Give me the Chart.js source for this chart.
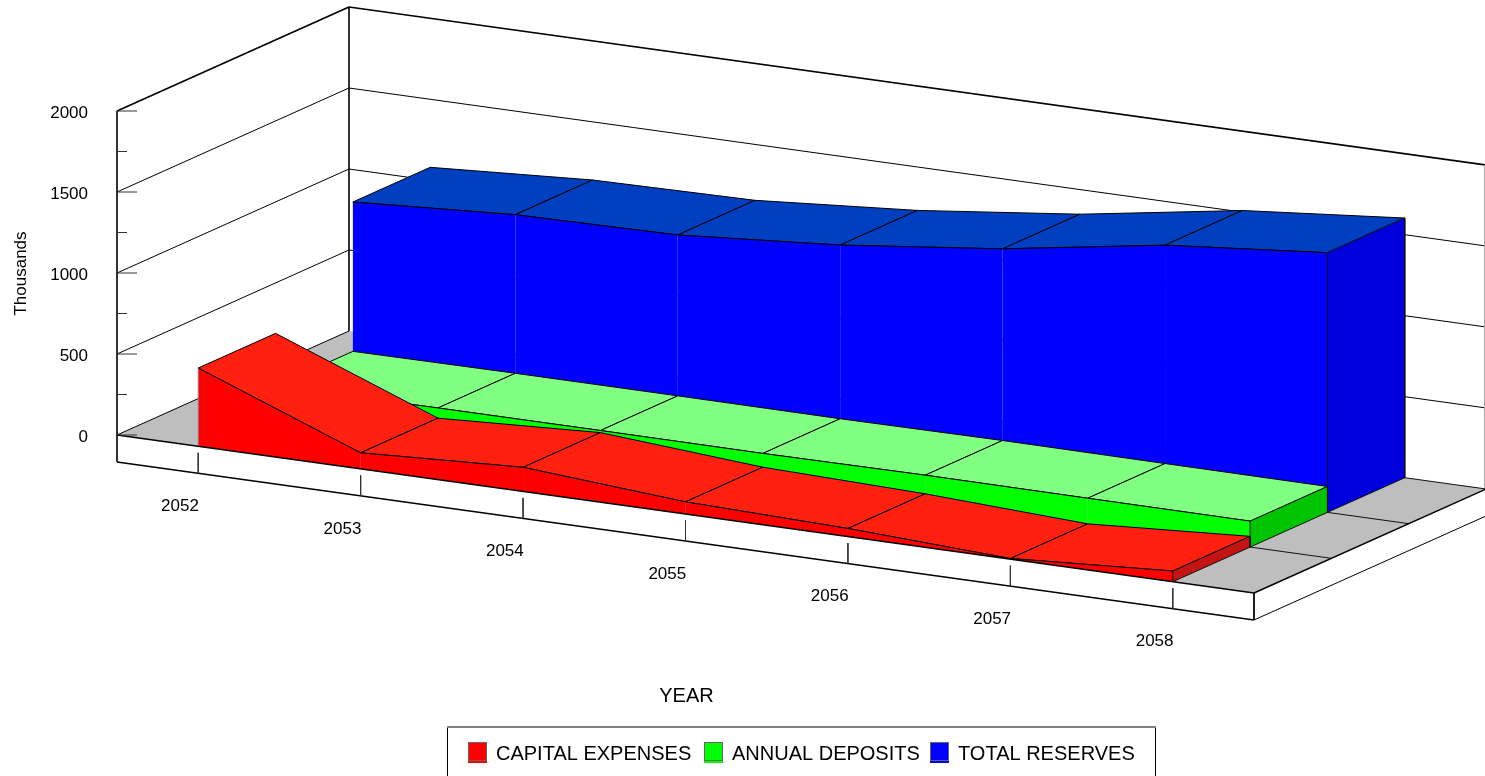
<!DOCTYPE html>
<html>
<head>
<meta charset="utf-8">
<title>Reserves</title>
<style>
  html, body { margin: 0; padding: 0; background: #fff; overflow: hidden; }
  canvas { display: block; }
</style>
<script src="https://cdn.jsdelivr.net/npm/chart.js@4"></script>
</head>
<body>
<canvas id="chart" width="1485" height="776"></canvas>
<script>
// chart data
const years = ['2052', '2053', '2054', '2055', '2056', '2057', '2058'];
const capitalExpenses = [483, 99, 149, 75, 50, 4, 66];
const annualDeposits = [158, 162, 162, 160, 165, 162, 160];
const totalReserves = [1080, 1141, 1155, 1232, 1348, 1510, 1603];
const majorTicks = [0, 500, 1000, 1500, 2000];
const minorTicks = [250, 750, 1250, 1750];
const legendNames = ['CAPITAL EXPENSES', 'ANNUAL DEPOSITS', 'TOTAL RESERVES'];

const FONT = '"Liberation Sans", Arial, sans-serif';
const valueMax = 2000;

// oblique projection: year position, depth (0 front, 1 back), value -> page point
function project(i, d, v) {
    return {
        x: 117 + 162.43 * i + 232 * d,
        y: 435 + 22.57 * i - 104 * d - v * 324 / valueMax
    };
}

const faces = [];

function addFace(points, fill, line, width) {
    faces.push({
        data: points.concat(line ? [points[0]] : []),
        type: 'scatter',
        showLine: true,
        tension: 0,
        pointRadius: 0,
        pointHoverRadius: 0,
        fill: fill ? 'shape' : false,
        backgroundColor: fill || 'transparent',
        borderColor: line || 'transparent',
        borderWidth: line ? (width || 1) : 0,
        clip: false
    });
}

function addLine(a, b, color, width) {
    faces.push({
        data: [a, b],
        type: 'scatter',
        showLine: true,
        tension: 0,
        pointRadius: 0,
        pointHoverRadius: 0,
        fill: false,
        borderColor: color,
        borderWidth: width,
        clip: false
    });
}

// floor slab
const n = years.length;
addFace([project(0, 0, 0), project(n, 0, 0), project(n, 1, 0), project(0, 1, 0)], '#bebebe');

// walls
majorTicks.slice(1, -1).forEach(v => {
    addLine(project(0, 0, v), project(0, 1, v), '#000', 1);
    addLine(project(0, 1, v), project(n, 1, v), '#000', 1);
});
addLine(project(0, 0, 0), project(0, 1, 0), '#000', 1);
addLine(project(0, 0, valueMax), project(0, 1, valueMax), '#000', 1.6);
addLine(project(0, 1, valueMax), project(n, 1, valueMax), '#000', 1.6);
addLine(project(0, 1, 0), project(0, 1, valueMax), '#000', 1.6);

// right edge of the back wall sits on the page border
const wallFoot = project(n, 1, 0);
const wallHead = project(n, 1, valueMax);
addLine({ x: 1484.5, y: wallFoot.y }, { x: 1484.5, y: wallHead.y }, '#aaa', 1);

// floor lines between the series rows
[1 / 3, 2 / 3, 1].forEach(d => {
    addLine(project(0.5, d, 0), project(n, d, 0), '#111', 1);
});

// one ribbon for a series: top, front and right end
function addRibbon(values, d0, d1, topColor, frontColor, endColor) {
    for (let k = 0; k < values.length - 1; k++) {
        addFace([
            project(k + 0.5, d0, values[k]),
            project(k + 1.5, d0, values[k + 1]),
            project(k + 1.5, d1, values[k + 1]),
            project(k + 0.5, d1, values[k])
        ], topColor, '#000', 1);
    }
    for (let k = 0; k < values.length - 1; k++) {
        addFace([
            project(k + 0.5, d0, values[k]),
            project(k + 1.5, d0, values[k + 1]),
            project(k + 1.5, d0, 0),
            project(k + 0.5, d0, 0)
        ], frontColor);
        addLine(project(k + 0.5, d0, values[k]), project(k + 1.5, d0, values[k + 1]), '#000', 1);
    }
    const last = values.length - 0.5;
    addFace([
        project(last, d0, values[values.length - 1]),
        project(last, d1, values[values.length - 1]),
        project(last, d1, 0),
        project(last, d0, 0)
    ], endColor, '#111', 1);
}

addRibbon(totalReserves, 2 / 3, 1, '#0040c0', '#0000ff', '#0000de');
addRibbon(annualDeposits, 1 / 3, 2 / 3, '#80ff80', '#00ff00', '#00c400');
addRibbon(capitalExpenses, 0, 1 / 3, '#ff2010', '#ff0000', '#c41414');
addLine(project(0.5, 0, 0), project(0.5, 0, capitalExpenses[0]), '#888', 1);

// slab edges
const drop = 27;
function below(p) { return { x: p.x, y: p.y + drop }; }
addLine(project(0, 0, 0), project(n, 0, 0), '#000', 1.4);
addLine(below(project(0, 0, 0)), below(project(n, 0, 0)), '#000', 1.6);
addLine(project(n, 0, 0), project(n, 1, 0), '#000', 1.4);
addLine(below(project(n, 0, 0)), below(project(n, 1, 0)), '#000', 1);
addLine(project(n, 0, 0), below(project(n, 0, 0)), '#000', 1);
addLine(project(0, 0, valueMax), below(project(0, 0, 0)), '#000', 1.6);

// axis ticks
majorTicks.forEach(v => {
    const p = project(0, 0, v);
    addLine(p, { x: p.x + 20, y: p.y }, '#333', 1);
});
minorTicks.forEach(v => {
    const p = project(0, 0, v);
    addLine(p, { x: p.x + 10, y: p.y }, '#333', 1);
});
years.forEach((y, k) => {
    const p = project(k + 0.5, 0, 0);
    addLine({ x: p.x, y: p.y + 6.5 }, { x: p.x, y: p.y + drop }, '#333', 1);
});

// paint order: first face at the back
faces.forEach((f, i) => { f.order = faces.length - i; });

const textPlugin = {
    id: 'chartText',
    afterDraw(chart) {
        const ctx = chart.ctx;
        const sx = chart.scales.x;
        const sy = chart.scales.y;
        ctx.save();
        ctx.fillStyle = '#000';
        ctx.textBaseline = 'middle';

        ctx.font = '17px ' + FONT;
        ctx.textAlign = 'right';
        majorTicks.forEach(v => {
            const p = project(0, 0, v);
            ctx.fillText(String(v), 88, sy.getPixelForValue(p.y) + 2.5);
        });
        years.forEach((y, k) => {
            const p = project(k + 0.5, 0, 0);
            ctx.fillText(y, sx.getPixelForValue(p.x) + 0.7, sy.getPixelForValue(p.y) + 60);
        });

        ctx.save();
        ctx.translate(21, 273.5);
        ctx.rotate(-Math.PI / 2);
        ctx.textAlign = 'center';
        ctx.fillText('Thousands', 0, 0);
        ctx.restore();

        ctx.font = '20px ' + FONT;
        ctx.textAlign = 'center';
        ctx.fillText('YEAR', 686.5, 696);

        // legend
        ctx.strokeStyle = '#000';
        ctx.lineWidth = 1;
        ctx.beginPath();
        ctx.moveTo(447.5, 727);
        ctx.lineTo(447.5, 776);
        ctx.moveTo(1155.5, 727);
        ctx.lineTo(1155.5, 776);
        ctx.stroke();
        ctx.strokeStyle = '#808080';
        ctx.lineWidth = 2;
        ctx.beginPath();
        ctx.moveTo(447, 727);
        ctx.lineTo(1156, 727);
        ctx.stroke();

        const colors = ['#ff0000', '#00ff00', '#0000ff'];
        const swatchX = [468, 704, 930];
        ctx.textAlign = 'left';
        legendNames.forEach((name, i) => {
            ctx.fillStyle = colors[i];
            ctx.fillRect(swatchX[i], 742, 19, 21);
            ctx.lineWidth = 1;
            ctx.strokeStyle = '#666';
            ctx.strokeRect(swatchX[i] + 0.5, 742.5, 18, 18);
            ctx.fillStyle = '#000';
            ctx.fillText(name, swatchX[i] + 28, 754);
        });
        ctx.restore();
    }
};

new Chart(document.getElementById('chart').getContext('2d'), {
    type: 'scatter',
    data: { datasets: faces },
    options: {
        responsive: false,
        animation: false,
        events: [],
        layout: { padding: 0 },
        scales: {
            x: { type: 'linear', min: 0, max: 1485, display: false },
            y: { type: 'linear', min: 0, max: 776, reverse: true, display: false }
        },
        plugins: {
            legend: { display: false },
            title: { display: false },
            tooltip: { enabled: false }
        }
    },
    plugins: [textPlugin]
});
</script>
</body>
</html>
